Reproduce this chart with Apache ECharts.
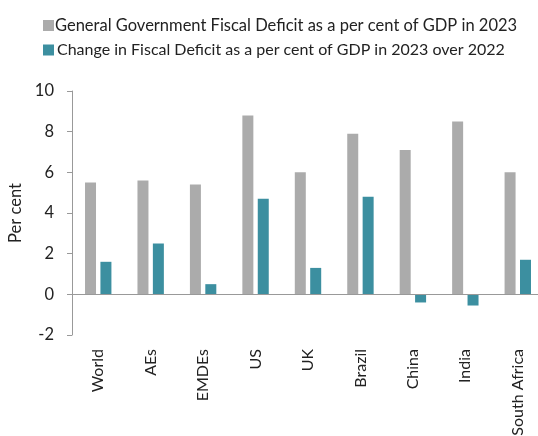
<!DOCTYPE html>
<html><head><meta charset="utf-8">
<script src="https://cdn.jsdelivr.net/npm/echarts@6/dist/echarts.min.js"></script>
<style>html,body{margin:0;padding:0;background:#fff}#c{width:538px;height:436px}</style>
</head><body><div id="c"></div>
<script>
const categories = ["World","AEs","EMDEs","US","UK","Brazil","China","India","South Africa"];
const deficit2023 = [5.5, 5.6, 5.4, 8.8, 6.0, 7.9, 7.1, 8.5, 6.0];
const change2023over2022 = [1.6, 2.5, 0.5, 4.7, 1.3, 4.8, -0.4, -0.55, 1.7];
const seriesNames = ["General Government Fiscal Deficit as a per cent of GDP in 2023",
                     "Change in Fiscal Deficit as a per cent of GDP in 2023 over 2022"];
const yTicks = {min: -2, max: 10, interval: 2};

const chart = echarts.init(document.getElementById('c'), null, {renderer: 'canvas'});
const font = 'Lato, "Open Sans", sans-serif';
chart.setOption({
  animation: false,
  textStyle: {fontFamily: font},
  legend: {
    orient: 'vertical', left: 38, top: 12, itemWidth: 11, itemHeight: 11, itemGap: 8,
    icon: 'rect',
    textStyle: {fontFamily: font, fontSize: 16.5, color: '#222', padding: [0,0,0,-4]},
    data: [
      {name: seriesNames[0], textStyle: {fontSize: 16.5}},
      {name: seriesNames[1], textStyle: {fontSize: 16, padding: [0,0,0,-2]}}
    ]
  },
  grid: {left: 72, top: 91, bottom: 101, width: 472, containLabel: false, outerBoundsMode: 'none'},
  xAxis: {
    type: 'category', data: categories,
    axisLine: {show: false, onZero: false},
    axisTick: {show: false},
    axisLabel: {rotate: 90, margin: 14, fontFamily: font, fontSize: 16, color: '#222', interval: 0}
  },
  yAxis: {
    type: 'value', min: yTicks.min, max: yTicks.max, interval: yTicks.interval,
    name: 'Per cent', nameLocation: 'middle', nameGap: 47,
    nameTextStyle: {fontFamily: font, fontSize: 16.5, color: '#222'},
    axisLine: {show: true, lineStyle: {color: '#999'}},
    axisTick: {show: true, length: 5, lineStyle: {color: '#999'}},
    axisLabel: {fontFamily: font, fontSize: 16.5, color: '#222', margin: 18},
    splitLine: {show: false}
  },
  series: [
    {name: seriesNames[0], type: 'bar', data: deficit2023, barWidth: 11, barGap: '40%',
     itemStyle: {color: '#ABABAB'},
     markLine: {silent: true, symbol: 'none', label: {show: false},
       lineStyle: {color: '#999', type: 'solid', width: 1},
       data: [{yAxis: 0}]}},
    {name: seriesNames[1], type: 'bar', data: change2023over2022, barWidth: 11,
     itemStyle: {color: '#3C8FA0'}}
  ]
});
</script></body></html>
